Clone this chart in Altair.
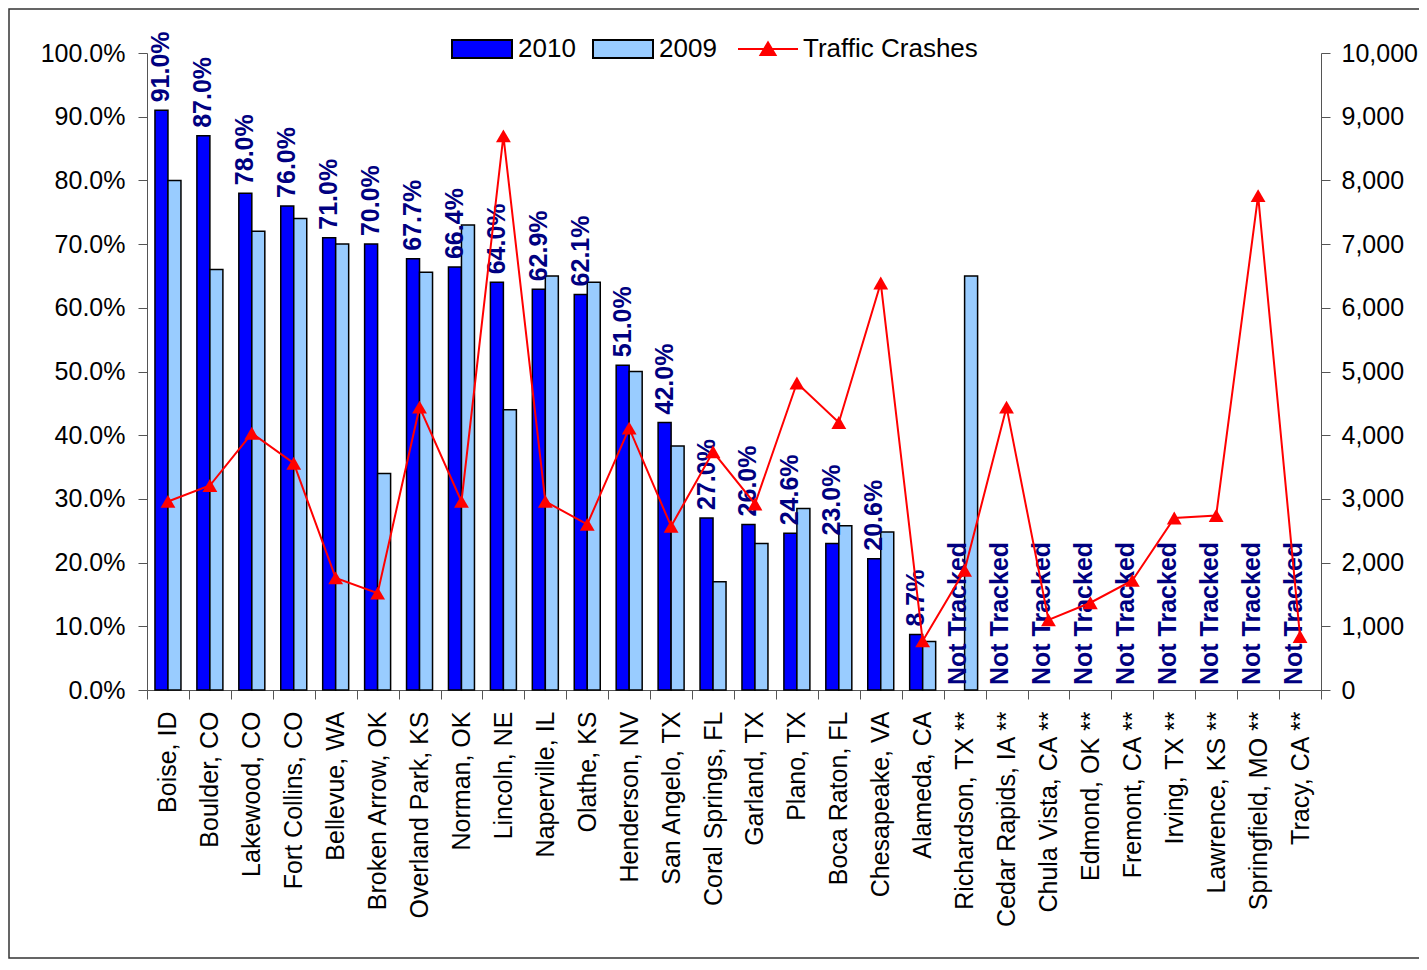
import altair as alt
import pandas as pd

cities = ["Boise, ID", "Boulder, CO", "Lakewood, CO", "Fort Collins, CO", "Bellevue, WA",
          "Broken Arrow, OK", "Overland Park, KS", "Norman, OK", "Lincoln, NE", "Naperville, IL",
          "Olathe, KS", "Henderson, NV", "San Angelo, TX", "Coral Springs, FL", "Garland, TX",
          "Plano, TX", "Boca Raton, FL", "Chesapeake, VA", "Alameda, CA", "Richardson, TX **",
          "Cedar Rapids, IA **", "Chula Vista, CA **", "Edmond, OK **", "Fremont, CA **",
          "Irving, TX **", "Lawrence, KS **", "Springfield, MO **", "Tracy, CA **"]

pct_2010 = [91.0, 87.0, 78.0, 76.0, 71.0, 70.0, 67.7, 66.4, 64.0, 62.9, 62.1, 51.0, 42.0,
            27.0, 26.0, 24.6, 23.0, 20.6, 8.7, None, None, None, None, None, None, None, None, None]

pct_2009 = [80.0, 66.0, 72.0, 74.0, 70.0, 34.0, 65.6, 73.0, 44.0, 65.0, 64.0, 50.0, 38.3,
            17.0, 23.0, 28.5, 25.8, 24.8, 7.6, 65.0, None, None, None, None, None, None, None, None]

crashes = [2960, 3210, 4030, 3560, 1760, 1520, 4440, 2960, 8700, 2960, 2600, 4110, 2570,
           3740, 2920, 4820, 4200, 6390, 770, 1880, 4440, 1100, 1370, 1720, 2700, 2740, 7760, 840]

years = ["2010", "2009"]
year_colors = ["#0000FF", "#99CCFF"]
crash_name = ["Traffic Crashes"]
crash_color = ["#FF0000"]
pct_ticks = [0, 10, 20, 30, 40, 50, 60, 70, 80, 90, 100]
crash_ticks = [0, 1000, 2000, 3000, 4000, 5000, 6000, 7000, 8000, 9000, 10000]
not_tracked = "Not Tracked"

FONT = "Liberation Sans"
AX = "#555555"

bar_rows = []
for c, a, b in zip(cities, pct_2010, pct_2009):
    if a is not None:
        bar_rows.append({"city": c, "series": "2010", "pct": a})
    if b is not None:
        bar_rows.append({"city": c, "series": "2009", "pct": b})
bars_df = pd.DataFrame(bar_rows)

labels_df = pd.DataFrame([{"city": c, "series": "2010", "pct": a, "label": f"{a:.1f}%"}
                          for c, a in zip(cities, pct_2010) if a is not None])
nt_df = pd.DataFrame([{"city": c, "series": "2010", "pct": 0, "label": not_tracked}
                      for c, a in zip(cities, pct_2010) if a is None])
crash_df = pd.DataFrame({"city": cities, "series": crash_name * len(cities),
                         "crashes": crashes})

x_enc = alt.X("city:N", sort=cities,
              scale=alt.Scale(domain=cities, paddingInner=0, paddingOuter=0),
              axis=alt.Axis(title=None, labelAngle=270, labelFontSize=25, labelFont=FONT,
                            labelColor="black", tickBand="extent", tickSize=9, labelPadding=12,
                            domainColor=AX, tickColor=AX, labelLimit=400))
xoff_enc = alt.XOffset("series:N", scale=alt.Scale(domain=years, paddingInner=0, paddingOuter=0.6127))

left_scale = alt.Scale(domain=[0, 100], nice=False)
left_axis = alt.Axis(values=pct_ticks, labelExpr="format(datum.value, '.1f') + '%'", title=None,
                     grid=False, tickSize=9, labelPadding=13, labelFontSize=25, labelFont=FONT,
                     labelColor="black", domainColor=AX, tickColor=AX, orient="left")
right_axis = alt.Axis(values=crash_ticks, labelExpr="format(datum.value, ',.0f')", title=None,
                      grid=False, tickSize=9, labelPadding=11, labelFontSize=25, labelFont=FONT,
                      labelColor="black", domainColor=AX, tickColor=AX, orient="right")

rect_path = "M-1,-0.3L1,-0.3L1,0.3L-1,0.3Z"
line_path = "M-1,0L1,0M-0.25,0.2L0,-0.22L0.25,0.2Z"

bar_legend = alt.Legend(
    title=None, orient="none", legendX=304, legendY=-35, direction="horizontal",
    symbolSize=3600, symbolStrokeWidth=2, symbolStrokeColor="#000000", symbolType=rect_path,
    symbolOpacity=1, labelFontSize=26, labelFont=FONT, labelColor="black", labelOffset=5,
    columnPadding=13, padding=0, labelLimit=400,
)
line_legend = alt.Legend(
    title=None, orient="none", legendX=590, legendY=-35, direction="horizontal",
    symbolSize=3600, symbolStrokeWidth=2, symbolStrokeColor="#FF0000", symbolType=line_path,
    symbolOpacity=1, labelFontSize=26, labelFont=FONT, labelColor="black", labelOffset=4,
    padding=0, labelLimit=400,
)
bar_color = alt.Color("series:N", scale=alt.Scale(domain=years, range=year_colors), legend=bar_legend)
line_color = alt.Color("series:N", scale=alt.Scale(domain=crash_name, range=crash_color), legend=line_legend)

bars = alt.Chart(bars_df).mark_bar(stroke="black", strokeWidth=1.5, opacity=1).encode(
    x=x_enc, xOffset=xoff_enc,
    y=alt.Y("pct:Q", scale=left_scale, axis=left_axis, stack=False),
    color=bar_color,
)

labels = alt.Chart(labels_df).mark_text(
    angle=270, align="left", baseline="middle", dx=8, font=FONT, fontSize=25,
    fontWeight="bold", color="#000080"
).encode(x=x_enc, xOffset=xoff_enc, y=alt.Y("pct:Q", scale=left_scale), text="label:N")

nt_labels = alt.Chart(nt_df).mark_text(
    angle=270, align="left", baseline="middle", dx=5, font=FONT, fontSize=25,
    fontWeight="bold", color="#000080"
).encode(x=x_enc, xOffset=xoff_enc, y=alt.Y("pct:Q", scale=left_scale), text="label:N")

left = alt.layer(bars, labels, nt_labels)

crash_y = alt.Y("crashes:Q", scale=alt.Scale(domain=[0, 10000], nice=False), axis=right_axis)
line = alt.Chart(crash_df).mark_line(strokeWidth=2).encode(x=x_enc, y=crash_y, color=line_color)
points = alt.Chart(crash_df).mark_point(shape="triangle-up", filled=True, size=220, opacity=1).encode(
    x=x_enc, y=crash_y, color=line_color)
right = alt.layer(line, points)

border = alt.Chart(alt.Data(values=[{"frame": 1}])).mark_rect(
    filled=False, stroke="#333333", strokeWidth=1.5
).encode(x=alt.value(-138), x2=alt.value(1300), y=alt.value(-44), y2=alt.value(905))

chart = alt.layer(left, right, border).resolve_scale(
    y="independent", color="independent"
).resolve_legend(color="independent").properties(
    width=1174, height=637,
    autosize=alt.AutoSizeParams(type="none"),
    padding={"left": 139, "top": 45, "right": 98, "bottom": 270},
).configure_view(strokeWidth=0)

chart.save("out.html", embed_options={"renderer": "svg", "actions": False})
